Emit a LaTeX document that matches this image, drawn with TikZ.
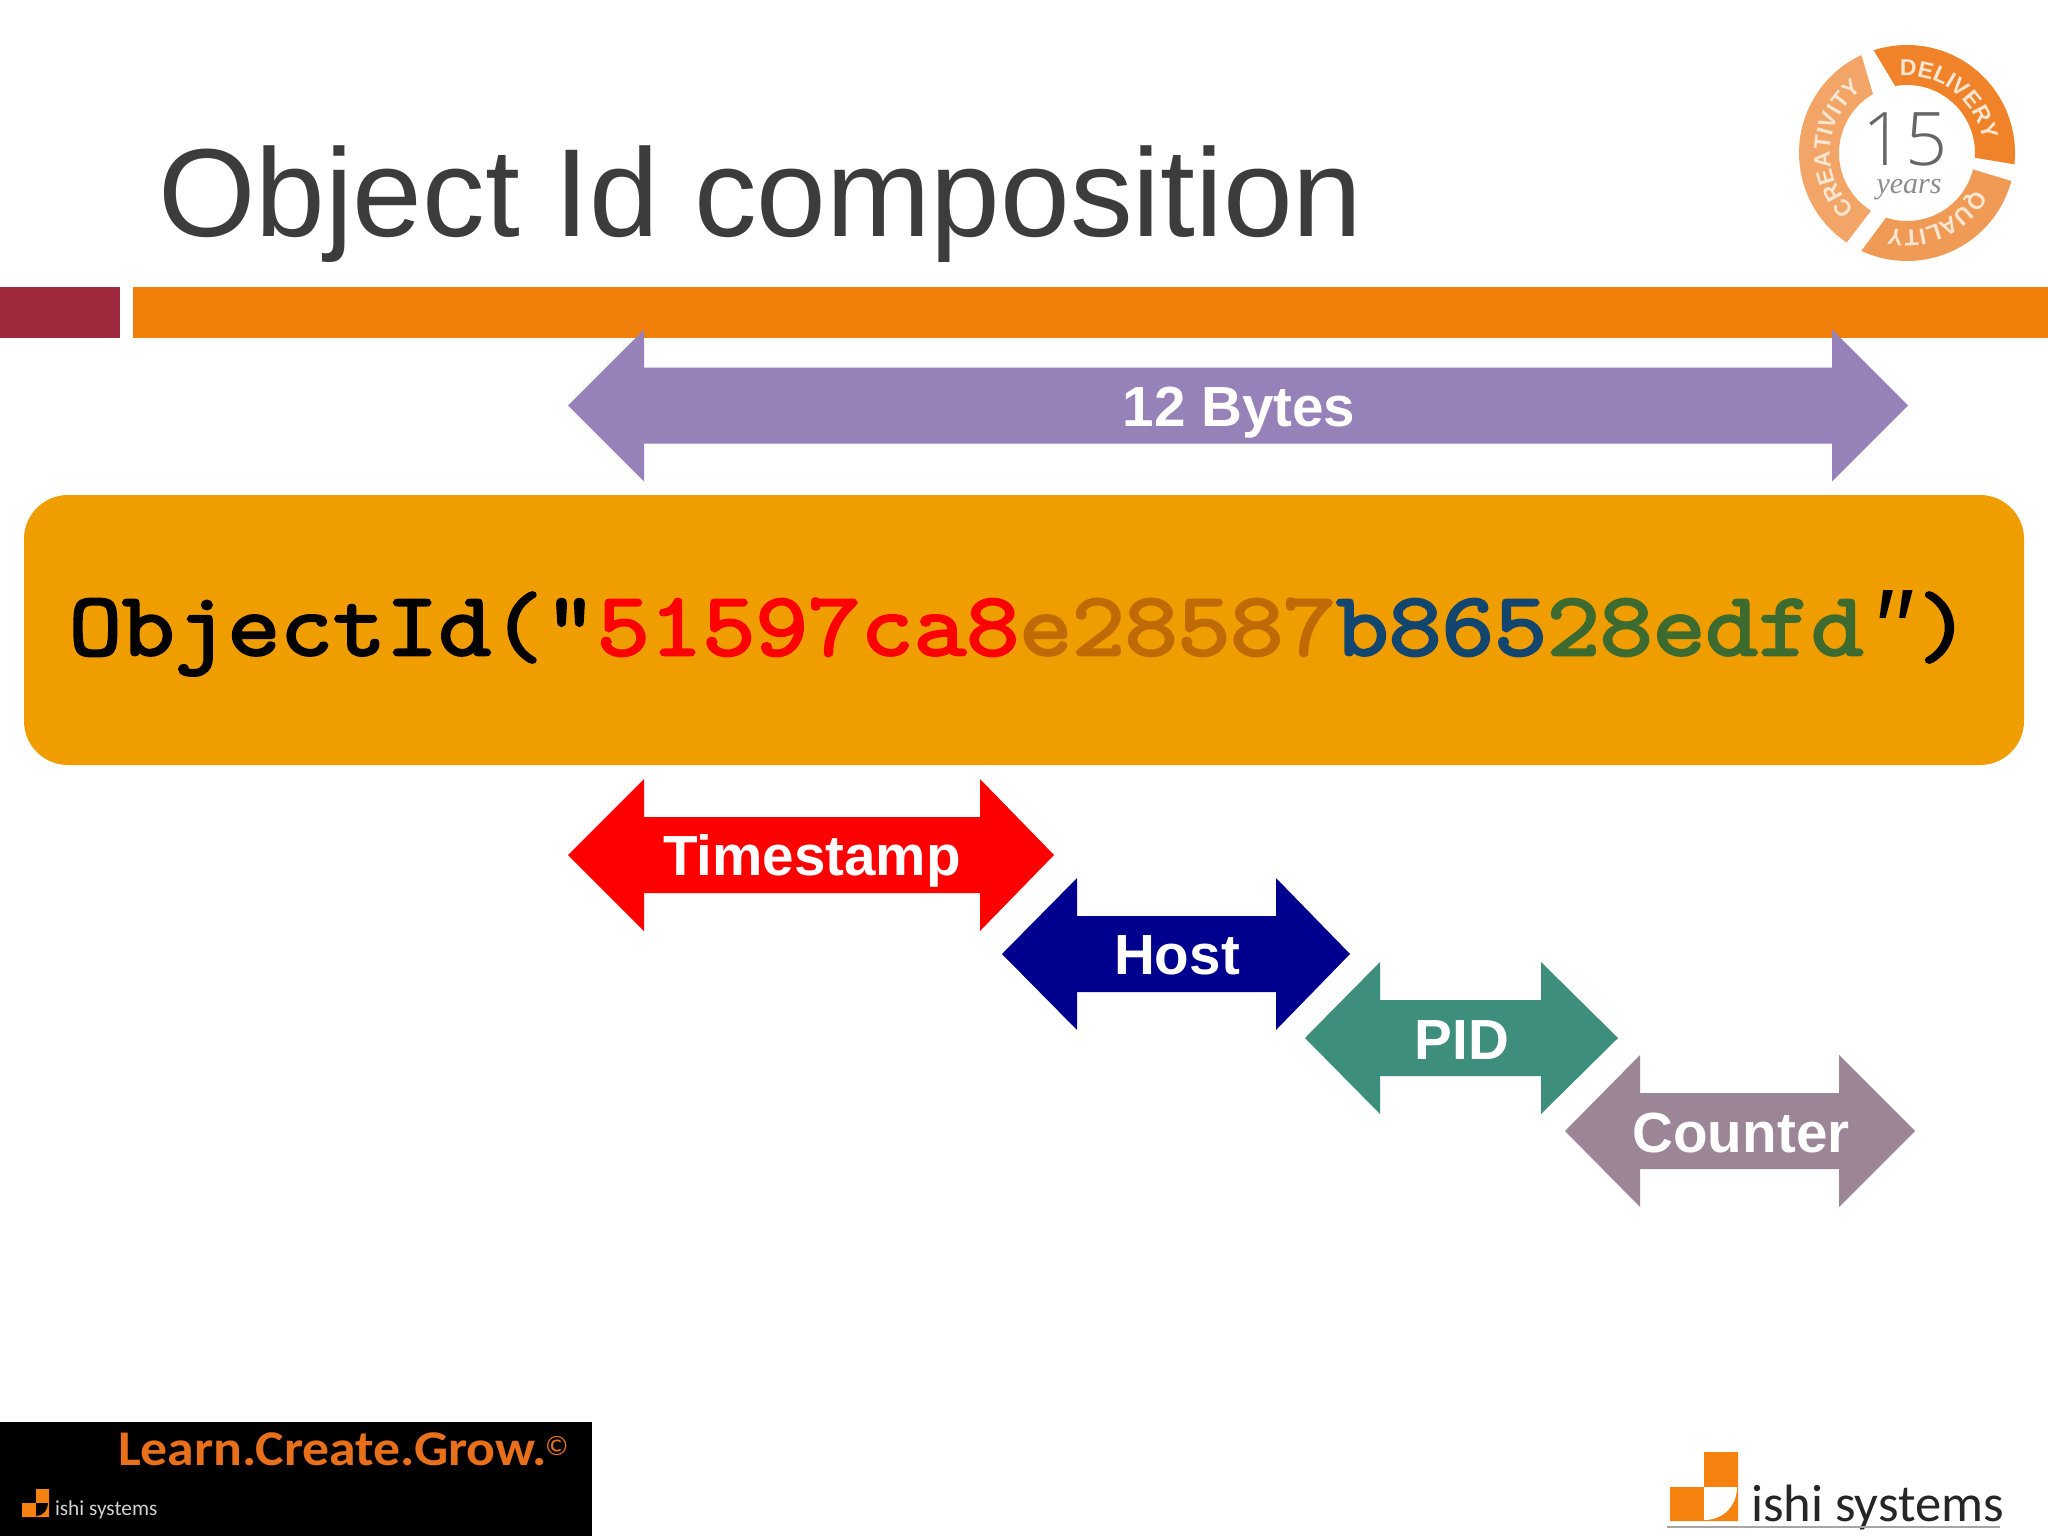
\documentclass[tikz,border=0pt]{standalone}
\usepackage{fontspec}
\setmainfont{Liberation Sans}
\newfontfamily\logofont{Carlito}
\newfontfamily\learnfont[FakeStretch=1.075]{Carlito}
\newfontfamily\lightfont{Open Sans Light}
\newfontfamily\seriffont{Liberation Serif}
\newfontfamily\codefont[FakeBold=3,FakeStretch=1.139]{Latin Modern Mono}
\newfontfamily\quotefont{Liberation Mono}
\usetikzlibrary{decorations.text}
\definecolor{titlegray}{HTML}{3C3C3C}
\definecolor{barred}{HTML}{A0283C}
\definecolor{barorange}{HTML}{F0800A}
\definecolor{boxorange}{HTML}{F09D00}
\definecolor{apurple}{HTML}{9681B8}
\definecolor{ared}{HTML}{FF0000}
\definecolor{anavy}{HTML}{00008F}
\definecolor{ateal}{HTML}{3E8E7E}
\definecolor{amauve}{HTML}{9B8596}
\definecolor{cbrown}{HTML}{C06A05}
\definecolor{cblue}{HTML}{12466F}
\definecolor{cgreen}{HTML}{3D6B2F}
\definecolor{logoorange}{HTML}{F5820F}
\definecolor{learnorange}{HTML}{E8701A}
\definecolor{ringa}{HTML}{F0832A}
\definecolor{ringb}{HTML}{F09B55}
\definecolor{ringc}{HTML}{F2A566}
\definecolor{ringtext}{HTML}{FBE6D2}
\tikzset{
  plain/.style={inner sep=0pt,outer sep=0pt},
  arrowlabel/.style={plain,anchor=base,text=white,font=\bfseries\fontsize{56.6}{57}\selectfont},
  ringlabel/.style={decorate,decoration={text along path,text align=center,
     text={|\bfseries\fontsize{23}{23}\selectfont\color{ringtext}|#1}}}
}
% colour, left tip, left shaft end, right shaft end, right tip, centre y
\newcommand{\dblarrow}[6]{%
  \fill[#1] (#2,#6) -- (#3,#6-76) -- (#3,#6-38) -- (#4,#6-38) -- (#4,#6-76)
     -- (#5,#6) -- (#4,#6+76) -- (#4,#6+38) -- (#3,#6+38) -- (#3,#6+76) -- cycle;}
\begin{document}
\begin{tikzpicture}[x=1pt,y=-1pt]
\useasboundingbox (0,0) rectangle (2048,1536);
\fill[white] (0,0) rectangle (2048,1536);
% title and bars
\node[plain,anchor=base west,text=titlegray,font=\fontsize{125.3}{126}\selectfont] (title) at (158,236) {Object Id composition};
\fill[barred] (0,287) rectangle (120,338);
\fill[barorange] (133,287) rectangle (2048,338);
% badge
\begin{scope}[shift={(1907,153)},y=1pt]
  \fill[ringa] (108:108) arc[start angle=108,end angle=-6,radius=108] -- (-4:68) arc[start angle=-4,end angle=100,radius=68] -- cycle;
  \fill[ringb] (-15:108) arc[start angle=-15,end angle=-115,radius=108] -- (-108:68) arc[start angle=-108,end angle=-14,radius=68] -- cycle;
  \fill[ringc] (-124:108) arc[start angle=-124,end angle=-245,radius=108] -- (-240:68) arc[start angle=-240,end angle=-122,radius=68] -- cycle;
  \path[ringlabel=DELIVERY] (100:77) arc[start angle=100,end angle=5,radius=77];
  \path[ringlabel=QUALITY] (-18:77) arc[start angle=-18,end angle=-114,radius=77];
  \path[ringlabel=CREATIVITY] (-125:77) arc[start angle=-125,end angle=-243,radius=77];
  \node[plain,text=black!60,font=\lightfont\fontsize{74}{74}\selectfont] (fifteen) at (-2,14) {15};
  \node[plain,text=black!45,font=\seriffont\itshape\fontsize{30}{30}\selectfont] (years) at (2,-37) {years};
\end{scope}
% main box
\fill[boxorange,rounded corners=44pt] (24,495) rectangle (2024,765);
\node[plain,anchor=base west,font=\codefont\fontsize{90}{90}\selectfont] (code) at (69,655)
  {ObjectId("\textcolor{ared}{51597ca8}\textcolor{cbrown}{e28587}\textcolor{cblue}{b865}\textcolor{cgreen}{28edfd}{\quotefont\itshape\fontsize{89.6}{90}\selectfont"})};
% arrows
\dblarrow{apurple}{568}{644}{1832}{1908}{405.5}
\node[arrowlabel] (bytes) at (1239,426) {12 Bytes};
\dblarrow{ared}{568}{644}{980}{1054}{855}
\node[arrowlabel] (timestamp) at (812,875) {Timestamp};
\dblarrow{anavy}{1002}{1077}{1276}{1350}{954}
\node[arrowlabel] (host) at (1177,974) {Host};
\dblarrow{ateal}{1305}{1380}{1541}{1618}{1038}
\node[arrowlabel] (pid) at (1462,1059) {PID};
\dblarrow{amauve}{1565}{1640}{1839}{1915}{1131}
\node[arrowlabel] (counter) at (1741,1152) {Counter};
% bottom-left panel
\fill[black] (0,1422) rectangle (592,1536);
\node[plain,anchor=base west,text=learnorange,font=\learnfont\bfseries\fontsize{50}{50}\selectfont] (learn) at (118,1465) {Learn.Create.Grow.};
\node[plain,anchor=base west,text=learnorange,font=\logofont\fontsize{28}{28}\selectfont] (copy) at (545,1455) {©};
\fill[logoorange] (22,1503) rectangle (36,1517) (36,1489) rectangle (49,1503) (36,1503) rectangle (49,1517);
\fill[black] (36,1503) -- (48,1503) .. controls (48,1510) and (43,1516) .. (36,1516) -- cycle;
\node[plain,anchor=base west,text=black!18,font=\logofont\fontsize{21.3}{22}\selectfont] (smallishi) at (55,1515) {ishi systems};
% bottom-right logo
\fill[logoorange] (1704,1452) rectangle (1738,1487) (1670,1487) rectangle (1704,1521) (1704,1487) rectangle (1738,1521);
\fill[white] (1704,1487) -- (1737,1487) .. controls (1737,1505) and (1724,1520) .. (1704,1520) -- cycle;
\node[plain,anchor=base west,text=black!85,font=\logofont\fontsize{52.6}{53}\selectfont] (bigishi) at (1751,1521) {ishi systems};
\coordinate (rulea) at (1667,1527);
\coordinate (ruleb) at (2000,1527);
\draw[black!35,line width=1.2pt] (rulea) -- (ruleb);
\end{tikzpicture}
\end{document}
